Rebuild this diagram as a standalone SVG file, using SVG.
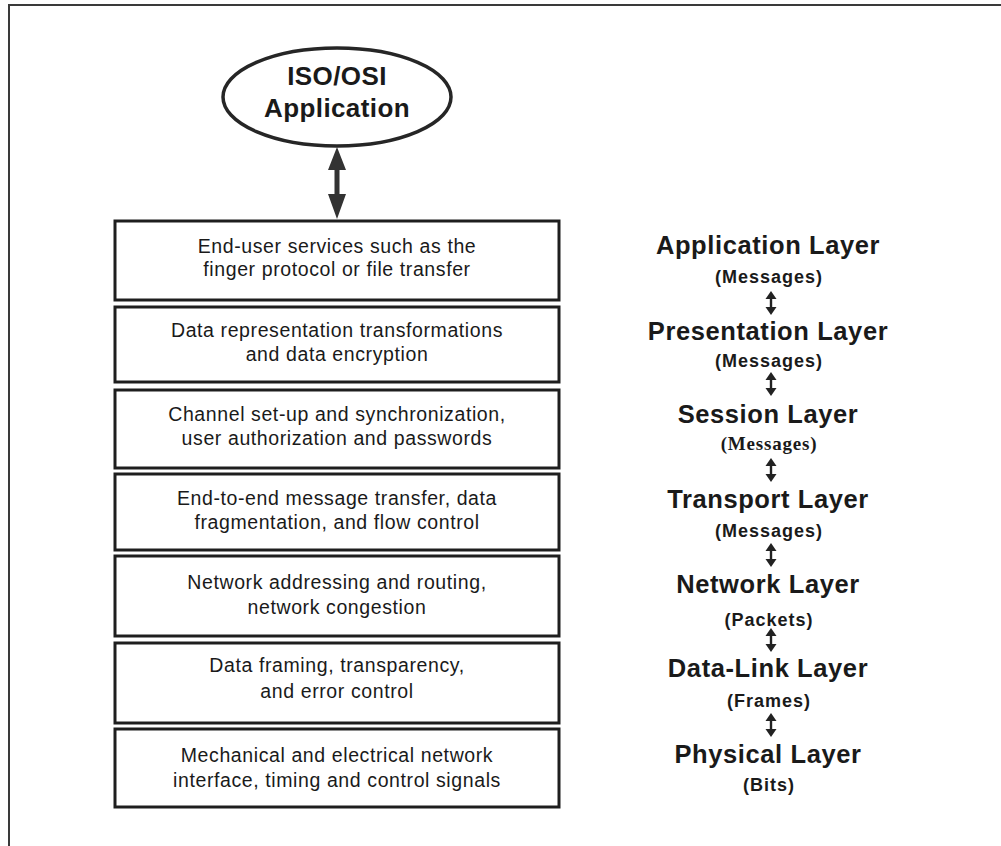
<svg xmlns="http://www.w3.org/2000/svg" width="1001" height="846" viewBox="0 0 1001 846">
  <style>
    .frame { fill: none; stroke: #3a3a3a; stroke-width: 2; }
    .box { fill: #ffffff; stroke: #1e1e1e; stroke-width: 3; }
    .desc { font-family: "Liberation Sans", Arial, sans-serif; font-size: 19.5px; letter-spacing: 0.6px; fill: #1a1a1a; text-anchor: middle; }
    .layer { font-family: "Liberation Sans", Arial, sans-serif; font-size: 25.5px; font-weight: bold; letter-spacing: 0.6px; fill: #1a1a1a; text-anchor: middle; }
    .unit { font-family: "Liberation Sans", Arial, sans-serif; font-size: 18px; font-weight: bold; letter-spacing: 1px; fill: #1a1a1a; text-anchor: middle; }
    .unit-serif { font-family: "Liberation Serif", "Times New Roman", serif; font-size: 19px; font-weight: bold; letter-spacing: 0.8px; fill: #1a1a1a; text-anchor: middle; }
    .app { font-family: "Liberation Sans", Arial, sans-serif; font-size: 26px; font-weight: bold; letter-spacing: 0.4px; fill: #1a1a1a; text-anchor: middle; }
    .oval { fill: #ffffff; stroke: #262626; stroke-width: 3.5; }
    .big-arrow { fill: #333333; }
    .small-arrow { fill: #222222; }
  </style>
  <defs>
    <!-- small double-headed arrow between layer names, centred on origin -->
    <g id="dbl">
      <polygon points="0,-12 5.5,-4 1.2,-4 1.2,4 5.5,4 0,12 -5.5,4 -1.2,4 -1.2,-4 -5.5,-4"/>
    </g>
  </defs>

  <rect width="1001" height="846" fill="#ffffff"/>

  <!-- outer page frame (top and left edges) -->
  <path class="frame" d="M9,846 V5 H1001"/>

  <!-- application oval -->
  <g id="node-application">
    <ellipse class="oval" cx="337" cy="97" rx="114" ry="49"/>
    <text class="app" x="337" y="85">ISO/OSI</text>
    <text class="app" x="337" y="117">Application</text>
  </g>

  <!-- protocol stack boxes -->
  <g id="box-application">
    <rect class="box" x="115" y="221" width="444" height="79"/>
    <text class="desc" x="337" y="253">End-user services such as the</text>
    <text class="desc" x="337" y="276">finger protocol or file transfer</text>
  </g>
  <g id="box-presentation">
    <rect class="box" x="115" y="307" width="444" height="75"/>
    <text class="desc" x="337" y="337">Data representation transformations</text>
    <text class="desc" x="337" y="361">and data encryption</text>
  </g>
  <g id="box-session">
    <rect class="box" x="115" y="390" width="444" height="78"/>
    <text class="desc" x="337" y="421">Channel set-up and synchronization,</text>
    <text class="desc" x="337" y="445">user authorization and passwords</text>
  </g>
  <g id="box-transport">
    <rect class="box" x="115" y="474" width="444" height="76"/>
    <text class="desc" x="337" y="505">End-to-end message transfer, data</text>
    <text class="desc" x="337" y="529">fragmentation, and flow control</text>
  </g>
  <g id="box-network">
    <rect class="box" x="115" y="556" width="444" height="80"/>
    <text class="desc" x="337" y="589">Network addressing and routing,</text>
    <text class="desc" x="337" y="614">network congestion</text>
  </g>
  <g id="box-datalink">
    <rect class="box" x="115" y="643" width="444" height="80"/>
    <text class="desc" x="337" y="672">Data framing, transparency,</text>
    <text class="desc" x="337" y="698">and error control</text>
  </g>
  <g id="box-physical">
    <rect class="box" x="115" y="729" width="444" height="78"/>
    <text class="desc" x="337" y="762">Mechanical and electrical network</text>
    <text class="desc" x="337" y="787">interface, timing and control signals</text>
  </g>

  <!-- layer names with their data units -->
  <g id="label-application">
    <text class="layer" x="768" y="254">Application Layer</text>
    <text class="unit" x="769" y="283">(Messages)</text>
  </g>
  <g id="label-presentation">
    <text class="layer" x="768" y="340">Presentation Layer</text>
    <text class="unit" x="769" y="367">(Messages)</text>
  </g>
  <g id="label-session">
    <text class="layer" x="768" y="423">Session Layer</text>
    <text class="unit-serif" x="769" y="450">(Messages)</text>
  </g>
  <g id="label-transport">
    <text class="layer" x="768" y="508">Transport Layer</text>
    <text class="unit" x="769" y="537">(Messages)</text>
  </g>
  <g id="label-network">
    <text class="layer" x="768" y="593">Network Layer</text>
    <text class="unit" x="769" y="626">(Packets)</text>
  </g>
  <g id="label-datalink">
    <text class="layer" x="768" y="677">Data-Link Layer</text>
    <text class="unit" x="769" y="707">(Frames)</text>
  </g>
  <g id="label-physical">
    <text class="layer" x="768" y="763">Physical Layer</text>
    <text class="unit" x="769" y="791">(Bits)</text>
  </g>

  <!-- connectors -->
  <g id="connectors">
    <!-- thick two-way arrow from the application oval to the stack -->
    <polygon class="big-arrow" points="337,147 346,170 339.5,170 339.5,194 346,194 337,219 328,194 334.5,194 334.5,170 328,170"/>
    <!-- two-way arrows between the layer names -->
    <use href="#dbl" class="small-arrow" x="771" y="303"/>
    <use href="#dbl" class="small-arrow" x="771" y="384"/>
    <use href="#dbl" class="small-arrow" x="771" y="470"/>
    <use href="#dbl" class="small-arrow" x="771" y="555"/>
    <use href="#dbl" class="small-arrow" x="771" y="640"/>
    <use href="#dbl" class="small-arrow" x="771" y="725"/>
  </g>
</svg>
